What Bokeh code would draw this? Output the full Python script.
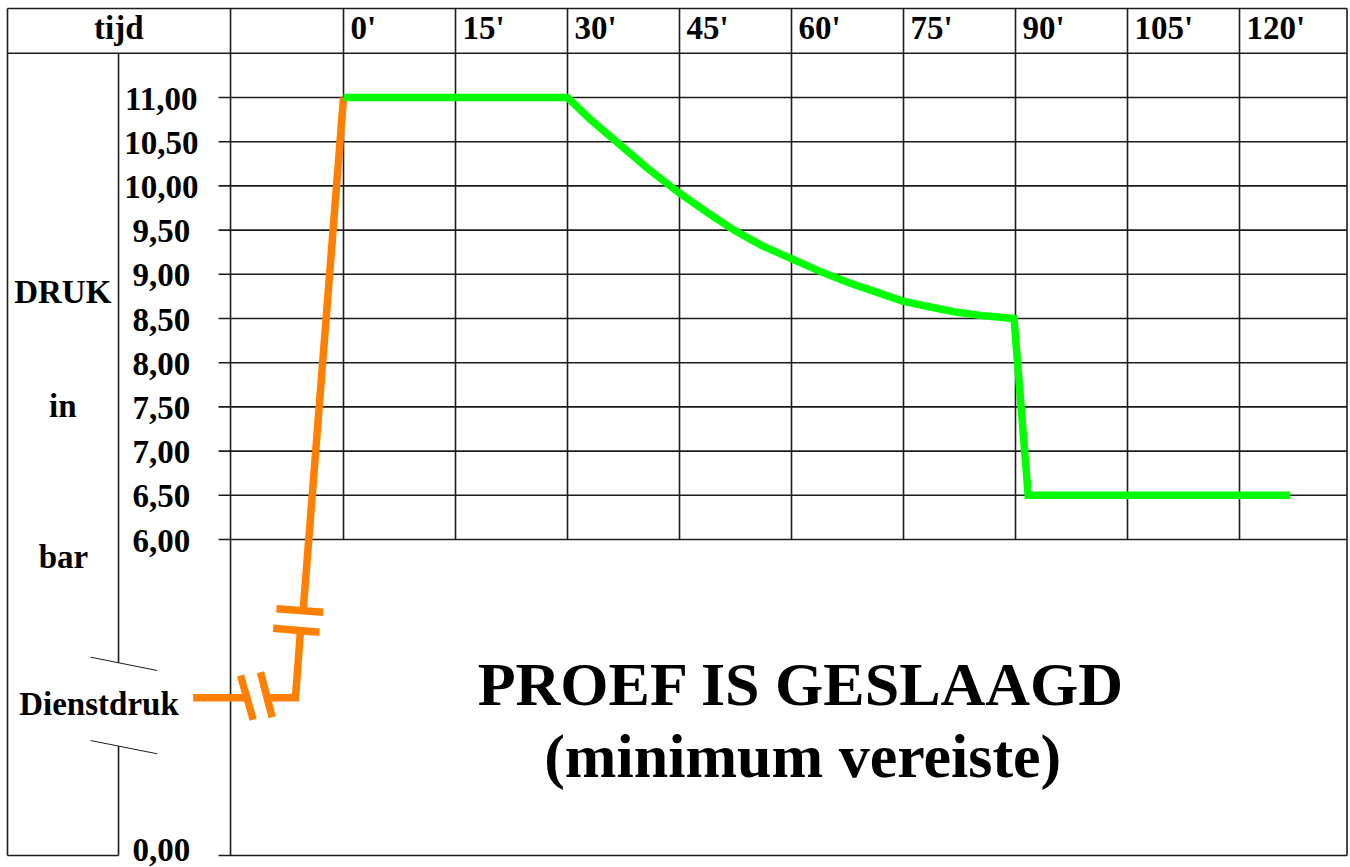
from bokeh.plotting import figure
from bokeh.models import Range1d
from bokeh.core.properties import value
from bokeh.embed import file_html
from bokeh.resources import INLINE

# ---------------- data ----------------
time_ticks = [0, 15, 30, 45, 60, 75, 90, 105, 120]
time_labels = ["0'", "15'", "30'", "45'", "60'", "75'", "90'", "105'", "120'"]

pressure_ticks = [11.0, 10.5, 10.0, 9.5, 9.0, 8.5, 8.0, 7.5, 7.0, 6.5, 6.0]
pressure_labels = ["11,00", "10,50", "10,00", "9,50", "9,00", "8,50",
                   "8,00", "7,50", "7,00", "6,50", "6,00"]
zero_label = "0,00"

# test curve (time in minutes, pressure in bar)
test_time = [0, 30.0, 33.1, 36.7, 40.7, 44.8, 48.7, 52.3, 55.9, 59.9, 63.9,
             67.5, 71.0, 74.8, 78.6, 82.2, 85.8, 89.8, 91.7, 126.8]
test_pressure = [11.0, 11.0, 10.75, 10.49, 10.20, 9.93, 9.70, 9.50, 9.33, 9.18, 9.03,
                 8.91, 8.81, 8.70, 8.63, 8.57, 8.53, 8.50, 6.50, 6.50]

# pressure build-up from service pressure (broken axis, display units)
rise_x = [[-20.13, -12.99], [-10.31, -6.43, -5.76], [-5.40, 0.0]]
rise_y = [[4.209, 4.209], [4.209, 4.209, 4.971], [5.197, 11.0]]
rise_break_x = [[-13.79, -12.09], [-11.12, -9.55], [-9.42, -3.21], [-8.97, -2.72]]
rise_break_y = [[4.461, 3.960], [4.499, 3.990], [4.997, 4.952], [5.216, 5.178]]

header_label = "tijd"
axis_words = ["DRUK", "in", "bar"]
service_label = "Dienstdruk"
verdict = ["PROEF IS GESLAAGD", "(minimum vereiste)"]

# ---------------- layout ----------------
PPM = 112 / 15.0           # px per minute
PPB = 88.4                 # px per bar
W, H = 1350, 867
x0 = -343 / PPM
y1 = 11 + 97 / PPB
XL = (7 - 343) / PPM
XR = (1346.5 - 343) / PPM
YT = 11 + 89 / PPB
YB = 11 - (855 - 97) / PPB
Y_HEAD = 11.5
X_LABCOL = -30.13
X_STUB = -16.74

FONT = value("Liberation Serif")
LC = "#1c1c1c"
LW = 1.6

p = figure(width=W, height=H, output_backend="svg", toolbar_location=None,
           x_range=Range1d(x0, x0 + W / PPM), y_range=Range1d(y1 - H / PPB, y1),
           min_border=0, outline_line_color=None)
p.axis.visible = False
p.xgrid.visible = False
p.ygrid.visible = False
p.background_fill_color = "white"

# frame / table lines
xs, ys = [], []
xs.append([XL, XR]); ys.append([YT, YT])                 # top
xs.append([XL, XL]); ys.append([YT, YB])                 # left
xs.append([XR, XR]); ys.append([YT, YB])                 # right
xs.append([XL, X_LABCOL]); ys.append([YB, YB])           # bottom left
xs.append([X_STUB, XR]); ys.append([YB, YB])             # bottom right
xs.append([XL, XR]); ys.append([Y_HEAD, Y_HEAD])         # header separator
xs.append([-15.13, -15.13]); ys.append([YT, YB])         # column before 0'
for t in time_ticks:
    xs.append([t, t]); ys.append([YT, min(pressure_ticks)])
for v in pressure_ticks:
    xs.append([X_STUB, XR]); ys.append([v, v])
# label column divider with break
xs.append([X_LABCOL, X_LABCOL]); ys.append([Y_HEAD, 4.606])
xs.append([X_LABCOL, X_LABCOL]); ys.append([3.663, YB])
p.multi_line(xs, ys, line_color=LC, line_width=LW)
p.multi_line([[-33.88, -24.95], [-33.88, -24.95]], [[4.669, 4.518], [3.726, 3.576]],
             line_color=LC, line_width=1.0)

# curves
ORANGE = "#ff8000"
GREEN = "#00ff00"
p.multi_line(rise_x, rise_y, line_color=ORANGE, line_width=7.5, line_join="miter", line_cap="butt")
p.multi_line(rise_break_x, rise_break_y, line_color=ORANGE, line_width=7.5, line_cap="butt")
p.line(test_time, test_pressure, line_color=GREEN, line_width=7.5, line_join="miter", line_cap="butt")

# texts
TS = "33px"
common = dict(text_font=FONT, text_font_style="bold", text_color="black", text_baseline="middle")
p.text(x=[t + 0.95 for t in time_ticks], y=[11.79] * len(time_ticks), text=time_labels,
       text_font_size=TS, text_align="left", **common)
p.text(x=[-30.1], y=[11.79], text=[header_label], text_font_size=TS, text_align="center", **common)
p.text(x=[-24.4] * len(pressure_ticks) + [-24.4], y=pressure_ticks + [2.50],
       text=pressure_labels + [zero_label], text_font_size=TS, text_align="center",
       y_offset=1, **common)
p.text(x=[-37.6, -37.6, -37.5], y=[8.80, 7.51, 5.80], text=axis_words,
       text_font_size=TS, text_align="center", **common)
p.text(x=[-32.75], y=[4.14], text=[service_label], text_font_size=TS, text_align="center", **common)
p.text(x=[61.34, 61.5], y=[4.36, 3.55], text=verdict, text_font_size="62px",
       text_align="center", **common)

open("out.html", "w").write(file_html(p, INLINE))
